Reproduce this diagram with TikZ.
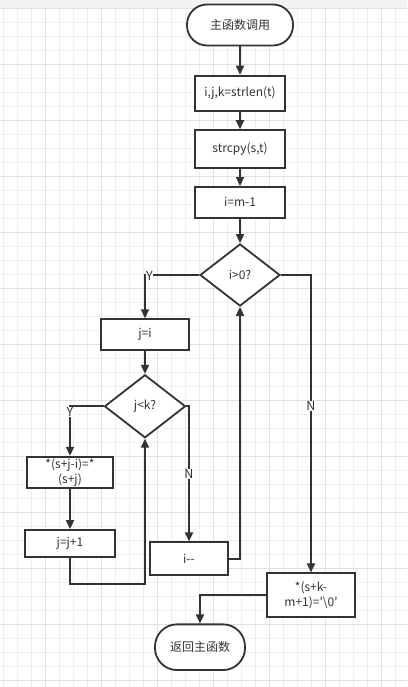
\documentclass[tikz,border=0pt]{standalone}
\usepackage{fontspec}
\setmainfont{Noto Sans CJK SC}
\usetikzlibrary{shapes,arrows.meta,positioning}
\definecolor{ink}{HTML}{333333}
\definecolor{gridminor}{HTML}{EEEEEE}
\definecolor{gridmajor}{HTML}{E0E0E0}
\definecolor{topbar}{HTML}{F2F2F2}

\begin{document}
\begin{tikzpicture}[x=1pt, y=1pt, font=\fontsize{12}{14.5}\selectfont, text=ink]
    \tikzstyle{terminal} = [rectangle, draw=ink, line width=1.8pt, fill=white, rounded corners=20pt, minimum width=106pt, minimum height=41pt, inner sep=0pt, align=center]
    \tikzstyle{process} = [rectangle, draw=ink, line width=1.8pt, fill=white, minimum width=90pt, minimum height=31pt, inner sep=0pt, align=center]
    \tikzstyle{decision} = [diamond, draw=ink, line width=1.8pt, fill=white, minimum width=80pt, minimum height=62pt, inner sep=0pt]
    \tikzstyle{arrow} = [line width=1.8pt, draw=ink, -{Triangle[length=9pt, width=8pt]}]
    \tikzstyle{lbl} = [fill=white, inner sep=0.5pt, anchor=center, font=\fontsize{12.5}{14}\selectfont]

    % Canvas and grid
    \useasboundingbox (0,0) rectangle (407,-687);
    \fill[white] (0,0) rectangle (407,-687);
    \fill[topbar] (0,0) rectangle (407,-8);
    \foreach \gx in {0,...,28} \draw[gridminor, line width=0.8pt] (3.3+14*\gx,-8) -- (3.3+14*\gx,-687);
    \foreach \gy in {0,...,48} \draw[gridminor, line width=0.8pt] (0,-8.3-14*\gy) -- (407,-8.3-14*\gy);
    \foreach \gx in {0,...,6} \draw[gridmajor, line width=0.8pt] (45.3+56*\gx,-8) -- (45.3+56*\gx,-687);
    \foreach \gy in {0,...,12} \draw[gridmajor, line width=0.8pt] (0,-8.3-56*\gy) -- (407,-8.3-56*\gy);

    % Main column
    \node [terminal] (start) at (240,-25) {主函数调用};
    \node [process, below of=start, node distance=68.3pt, minimum height=35.3pt] (init) {i,j,k=strlen(t)};
    \node [process, below of=init, node distance=55.7pt, minimum height=37.7pt] (copy) {strcpy(s,t)};
    \node [process, below of=copy, node distance=53.3pt, minimum height=30.7pt] (setm) {i=m-1};
    \node [decision, below of=setm, node distance=72.7pt] (outer) {i>0?};

    % Inner loop
    \node [process, below of=outer, node distance=59.7pt, xshift=-95pt, minimum width=88pt] (setj) {j=i};
    \node [decision, below of=setj, node distance=71.6pt, minimum width=81pt, minimum height=63pt] (inner) {j<k?};
    \node [process, below of=inner, node distance=66.2pt, xshift=-75pt, minimum width=86pt, minimum height=31.6pt] (shift) {*(s+j-i)=*\\(s+j)};
    \node [process, below of=shift, node distance=71pt, minimum width=90.6pt, minimum height=27pt] (incj) {j=j+1};
    \node [process, below of=inner, node distance=152.5pt, xshift=44pt, minimum width=77.7pt, minimum height=33pt] (deci) {i{-}{-}};

    % Exit
    \node [process, below of=outer, node distance=320.2pt, xshift=71pt, minimum width=88.6pt, minimum height=43.7pt] (term) {*(s+k-\\m+1)=\textquotesingle\textbackslash0\textquotesingle};
    \node [terminal, below of=term, node distance=52pt, xshift=-111pt, minimum width=90pt, minimum height=45.7pt, rounded corners=22pt] (stop) {返回主函数};

    % Arrows
    \draw [arrow] (start) -- (init);
    \draw [arrow] (init) -- (copy);
    \draw [arrow] (copy) -- (setm);
    \draw [arrow] (setm) -- (outer);
    \draw [arrow] (outer.west) -| node[lbl, pos=0.5, xshift=4.5pt, yshift=-1pt] {Y} (setj.north);
    \draw [arrow] (setj) -- (inner);
    \draw [arrow] (inner.west) -| node[lbl, pos=0.56] {Y} (shift.north);
    \draw [arrow] (shift) -- (incj);
    \draw [arrow] (incj.south) -- ++(0,-26.3) -| (inner.south);
    \draw [arrow] (inner.east) -| node[lbl, pos=0.75] {N} (deci.north);
    \draw [arrow] (deci.east) -| (outer.south);
    \draw [arrow] (outer.east) -| node[lbl, pos=0.72] {N} (term.north);
    \draw [arrow] (term.west) -| (stop.north);
\end{tikzpicture}
\end{document}
